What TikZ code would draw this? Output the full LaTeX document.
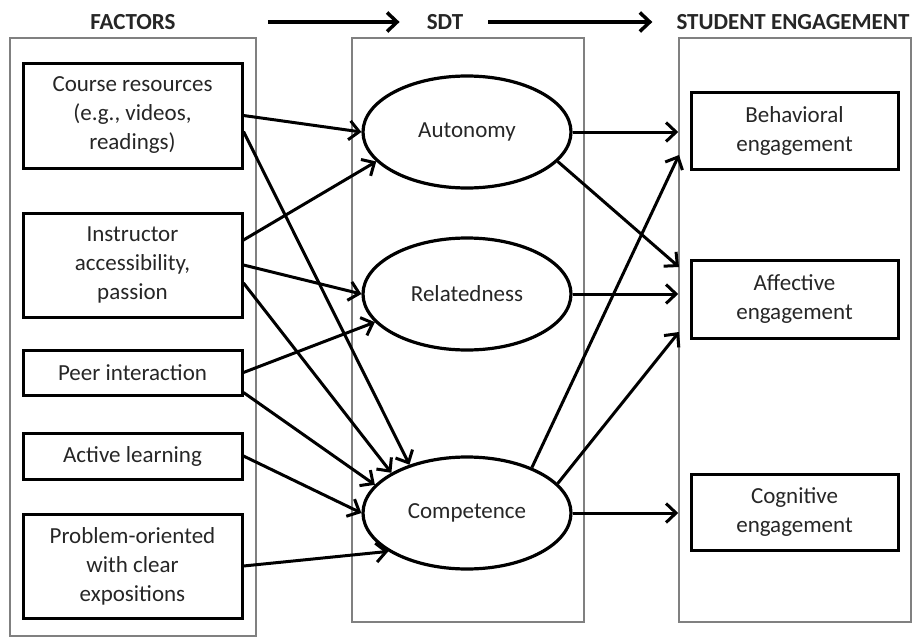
\documentclass[tikz,border=0pt]{standalone}
\usepackage{fontspec}
\setmainfont{Carlito}
\usetikzlibrary{arrows.meta,shapes.geometric}
\definecolor{txt}{gray}{0.15}

\begin{document}
\begin{tikzpicture}[x=1pt, y=-1pt, >={Straight Barb[length=10pt,width=19pt]},
    every node/.style={font=\fontsize{23}{29}\selectfont, text=txt},
    header/.style={font=\fontsize{23}{29}\selectfont\bfseries, inner sep=0},
    frame/.style={draw=gray, line width=1.6pt, inner sep=0},
    factor/.style={draw, line width=3pt, minimum width=219pt, align=center, inner sep=0},
    need/.style={ellipse, draw, line width=3.2pt, minimum width=208pt, minimum height=112pt, inner sep=0},
    outcome/.style={draw, line width=3pt, minimum width=207pt, align=center, inner sep=0},
    link/.style={->, line width=3pt}]
    \useasboundingbox (0,0) rectangle (916,637);

    % Headers
    \node[header] (hfac) at (133,22) {FACTORS};
    \node[header] (hsdt) at (445,22) {SDT};
    \node[header] (heng) at (793,22) {STUDENT ENGAGEMENT};
    \draw[link, line width=3.5pt, shorten <=92pt, shorten >=27pt] (hfac.east) -- (hsdt.west);
    \draw[link, line width=3.5pt, shorten <=25pt, shorten >=24pt] (hsdt.east) -- (heng.west);

    % Frames
    \node[frame, minimum width=246pt, minimum height=598pt] (facframe) at (133,337) {};
    \node[frame, minimum width=232pt, minimum height=584pt] (sdtframe) at (468,330) {};
    \node[frame, minimum width=232pt, minimum height=584pt] (engframe) at (795,330) {};

    % Factors
    \node[factor, minimum height=105pt] (course) at (132.5,115.5) {Course resources\\(e.g., videos,\\readings)};
    \node[factor, minimum height=104pt] (instr) at (132.5,265) {Instructor\\accessibility,\\passion};
    \node[factor, minimum height=45pt] (peer) at (132.5,372.5) {Peer interaction};
    \node[factor, minimum height=46pt] (active) at (132.5,456) {Active learning};
    \node[factor, minimum height=104pt] (problem) at (132.5,566) {Problem-oriented\\with clear\\expositions};

    % SDT needs
    \node[need] (auto) at (467,132) {Autonomy};
    \node[need] (rel) at (467,294) {Relatedness};
    \node[need] (comp) at (467,513) {Competence};

    % Engagement
    \node[outcome, minimum height=77pt] (beh) at (794.5,130.5) {Behavioral\\engagement};
    \node[outcome, minimum height=78pt] (aff) at (794.5,299) {Affective\\engagement};
    \node[outcome, minimum height=76pt] (cog) at (794.5,512) {Cognitive\\engagement};

    % Factors to needs
    \draw[link] (course.east) -- (auto.west);
    \draw[link] ([yshift=-16pt]course.east) -- (comp.140);
    \draw[link] ([yshift=25pt]instr.east) -- (auto.198);
    \draw[link] (instr.east) -- (rel.west);
    \draw[link] ([yshift=-18pt]instr.east) -- (comp.152);
    \draw[link] (peer.east) -- (rel.197);
    \draw[link] ([yshift=-20pt]peer.east) -- (comp.163);
    \draw[link] (active.east) -- (comp.west);
    \draw[link] (problem.east) -- (comp.206);

    % Needs to engagement
    \coordinate (inbeh) at (679,155);
    \coordinate (inaff) at (679,267);
    \coordinate (inaff2) at (679,332);
    \draw[link] (auto.east) -- (engframe.west |- auto.east);
    \draw[link] (auto.342) -- (inaff);
    \draw[link] (rel.east) -- (engframe.west |- rel.east);
    \draw[link] (comp.35) -- (inbeh);
    \draw[link] (comp.18) -- (inaff2);
    \draw[link] (comp.east) -- (engframe.west |- comp.east);
\end{tikzpicture}
\end{document}
